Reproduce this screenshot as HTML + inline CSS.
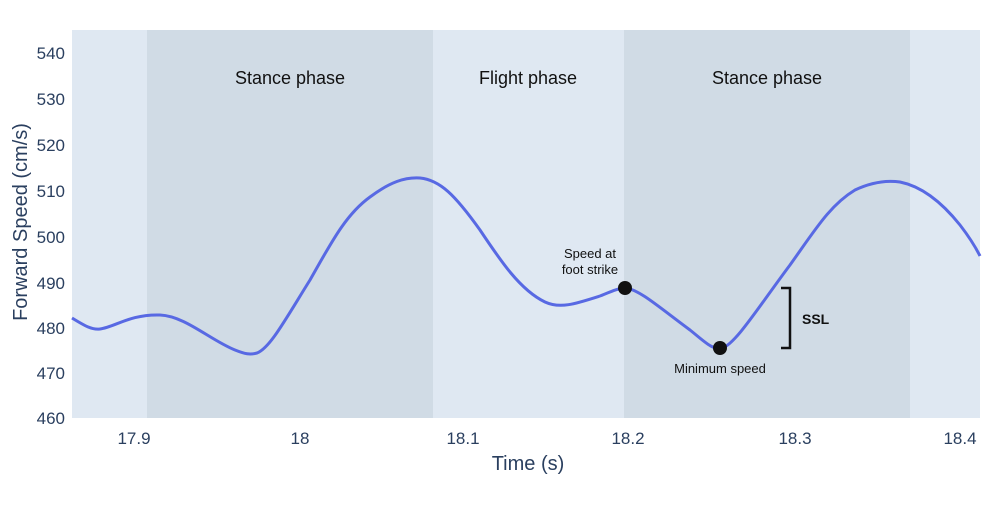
<!DOCTYPE html>
<html><head><meta charset="utf-8"><style>
body{margin:0;background:#fff;width:1000px;height:500px;overflow:hidden}
svg text{font-family:"Liberation Sans",sans-serif}
</style></head><body>
<svg width="1000" height="500" viewBox="0 0 1000 500">
<rect x="72" y="30" width="908" height="388" fill="#dfe8f2"/>
<rect x="147" y="30" width="286" height="388" fill="#d0dbe5"/>
<rect x="624" y="30" width="286" height="388" fill="#d0dbe5"/>
<g font-size="18" fill="#111" text-anchor="middle">
<text x="290" y="84">Stance phase</text>
<text x="528" y="84">Flight phase</text>
<text x="767" y="84">Stance phase</text>
</g>
<path d="M72,318 C85,326 92,330 100,329 C115,327 130,314 160,315 C185,316 210,340 235,350 C245,354 250,355 257,353 C270,348 285,320 310,280 C330,245 345,215 370,197 C390,182 405,177 420,178 C440,180 455,195 480,230 C500,260 520,290 545,302 C560,309 575,304 600,296 C610,292 618,288 626,288 C640,290 660,308 690,330 C705,342 712,350 722,348 C735,345 760,305 790,265 C815,230 830,205 855,190 C870,183 885,180 900,182 C920,186 940,200 960,225 C970,238 976,248 980,256" fill="none" stroke="#5869e3" stroke-width="3"/>
<circle cx="625" cy="288" r="7" fill="#111"/>
<circle cx="720" cy="348" r="7" fill="#111"/>
<path d="M781,288 H790 V348 H781" fill="none" stroke="#111" stroke-width="2.5"/>
<text x="802" y="324" font-size="14" font-weight="bold" fill="#111">SSL</text>
<g font-size="13" fill="#111" text-anchor="middle">
<text x="590" y="258">Speed at</text>
<text x="590" y="274">foot strike</text>
<text x="720" y="373">Minimum speed</text>
</g>
<g font-size="17" fill="#2a3f5f" text-anchor="end">
<text x="65" y="59">540</text><text x="65" y="105">530</text><text x="65" y="151">520</text>
<text x="65" y="197">510</text><text x="65" y="243">500</text><text x="65" y="289">490</text>
<text x="65" y="334">480</text><text x="65" y="379">470</text><text x="65" y="424">460</text>
</g>
<g font-size="17" fill="#2a3f5f" text-anchor="middle">
<text x="134" y="444">17.9</text><text x="300" y="444">18</text><text x="463" y="444">18.1</text>
<text x="628" y="444">18.2</text><text x="795" y="444">18.3</text><text x="960" y="444">18.4</text>
</g>
<text x="528" y="470" font-size="20" fill="#2a3f5f" text-anchor="middle">Time (s)</text>
<text transform="translate(27,222) rotate(-90)" font-size="20" fill="#2a3f5f" text-anchor="middle">Forward Speed (cm/s)</text>
</svg>
</body></html>
